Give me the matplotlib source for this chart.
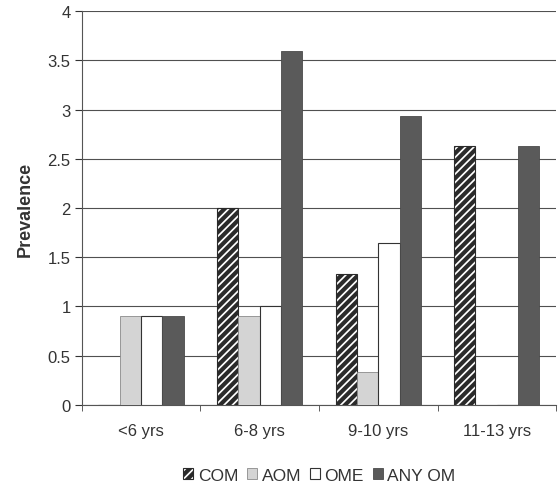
import matplotlib.pyplot as plt
import numpy as np

plt.rcParams['font.family'] = ['Liberation Sans', 'DejaVu Sans']
plt.rcParams['hatch.linewidth'] = 3.0
plt.rcParams['hatch.color'] = '#3a3a3a'

groups = ['<6 yrs', '6-8 yrs', '9-10 yrs', '11-13 yrs']
com = [0, 2.0, 1.33, 2.63]
aom = [0.9, 0.9, 0.33, 0]
ome = [0.9, 1.0, 1.64, 0]
any_om = [0.9, 3.6, 2.93, 2.63]

fig = plt.figure(figsize=(5.6, 4.85), dpi=100)
ax = fig.add_axes([0.146, 0.163, 0.847, 0.812])

x = np.arange(len(groups))
w = 0.18
series = [
    ('COM', com, dict(facecolor='white', edgecolor='#2a2a2a', hatch='////', linewidth=0.8)),
    ('AOM', aom, dict(facecolor='#d4d4d4', edgecolor='#8a8a8a', linewidth=0.6)),
    ('OME', ome, dict(facecolor='white', edgecolor='#333333', linewidth=0.8)),
    ('ANY OM', any_om, dict(facecolor='#5a5a5a', edgecolor='#4a4a4a', linewidth=0.6)),
]
for i, (name, vals, style) in enumerate(series):
    ax.bar(x + (i - 1.5) * w, vals, w, label=name, zorder=3, **style)

ax.set_xlim(-0.5, len(groups) - 0.5)
ax.set_ylim(0, 4)
ax.set_yticks(np.arange(0, 4.01, 0.5))
ax.set_yticklabels(['0', '0.5', '1', '1.5', '2', '2.5', '3', '3.5', '4'])
ax.yaxis.grid(True, color='#505050', linewidth=0.8, zorder=0)
ax.set_axisbelow(True)

# category labels centred, tick marks on the group boundaries
ax.set_xticks(x)
ax.set_xticklabels(groups)
ax.tick_params(axis='x', length=0, pad=13, labelsize=12, colors='#333333')
ax.set_xticks(np.arange(-0.5, len(groups)), minor=True)
ax.tick_params(axis='x', which='minor', length=4, color='#444444')
ax.tick_params(axis='y', length=5, labelsize=12, colors='#333333', pad=3)

for s in ['top', 'right']:
    ax.spines[s].set_visible(False)
ax.spines['left'].set_color('#555555')
ax.spines['bottom'].set_color('#555555')

ax.set_ylabel('Prevalence', fontsize=13, fontweight='bold', color='#333333', labelpad=10)

fig.legend(loc='center', bbox_to_anchor=(0.57, 0.018), ncol=4, frameon=False,
           fontsize=12.5, handlelength=0.6, handleheight=0.6, handletextpad=0.25,
           columnspacing=0.5, labelcolor='#333333')

fig.savefig('out.png', dpi=100)
